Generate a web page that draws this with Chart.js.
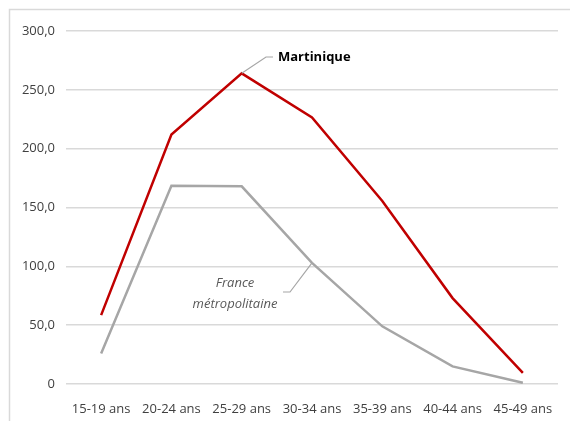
<!DOCTYPE html>
<html>
<head>
<meta charset="utf-8">
<script src="https://cdn.jsdelivr.net/npm/chart.js@4"></script>
<style>
  html, body { margin: 0; padding: 0; background: #fff; }
  #wrap { width: 570px; height: 421px; position: relative; }
</style>
</head>
<body>
<div id="wrap"><canvas id="chart"></canvas></div>
<script>
const ageGroups = ['15-19 ans', '20-24 ans', '25-29 ans', '30-34 ans', '35-39 ans', '40-44 ans', '45-49 ans'];
const martinique = [58.5, 212.0, 264.0, 226.5, 155.5, 73.0, 9.5];
const franceMetro = [26.0, 168.5, 168.0, 103.0, 49.0, 15.0, 1.0];
const yTicks = [0, 50, 100, 150, 200, 250, 300];

const FONT = '"Open Sans", sans-serif';

// frame + series labels with leader lines
const annotate = {
  id: 'annotate',
  beforeDraw(chart) {
    const ctx = chart.ctx;
    ctx.save();
    ctx.strokeStyle = '#d9d9d9';
    ctx.lineWidth = 1.5;
    ctx.beginPath();
    ctx.moveTo(9.5, 421);
    ctx.lineTo(9.5, 9.5);
    ctx.lineTo(570, 9.5);
    ctx.stroke();
    ctx.restore();
  },
  afterDatasetsDraw(chart) {
    const ctx = chart.ctx;
    const x = chart.scales.x, y = chart.scales.y;
    ctx.save();
    ctx.strokeStyle = '#a6a6a6';
    ctx.lineWidth = 1.2;

    // Martinique label at 25-29
    const mx = x.getPixelForValue(2), my = y.getPixelForValue(martinique[2]);
    ctx.beginPath();
    ctx.moveTo(mx, my);
    ctx.lineTo(266, 57);
    ctx.lineTo(273, 57);
    ctx.stroke();
    ctx.fillStyle = '#000';
    ctx.font = 'bold 13px ' + FONT;
    ctx.textAlign = 'left';
    ctx.textBaseline = 'middle';
    ctx.fillText('Martinique', 278, 57);

    // France métropolitaine label at 30-34
    const fx = x.getPixelForValue(3), fy = y.getPixelForValue(franceMetro[3]);
    ctx.beginPath();
    ctx.moveTo(fx, fy);
    ctx.lineTo(290, 292);
    ctx.lineTo(283, 292);
    ctx.stroke();
    ctx.fillStyle = '#595959';
    ctx.font = 'italic 13px ' + FONT;
    ctx.textAlign = 'center';
    ctx.fillText('France', 235, 283);
    ctx.fillText('métropolitaine', 235, 304);
    ctx.restore();
  }
};

new Chart(document.getElementById('chart'), {
  type: 'line',
  data: {
    labels: ageGroups,
    datasets: [
      {
        label: 'Martinique',
        data: martinique,
        borderColor: '#c00000',
        borderWidth: 2.5,
        pointRadius: 0,
        fill: false,
        tension: 0,
      },
      {
        label: 'France métropolitaine',
        data: franceMetro,
        borderColor: '#a6a6a6',
        borderWidth: 2.5,
        pointRadius: 0,
        fill: false,
        tension: 0,
      },
    ],
  },
  options: {
    responsive: true,
    maintainAspectRatio: false,
    animation: false,
    layout: { padding: { left: 10, top: 31, right: 12, bottom: 0 } },
    plugins: {
      legend: { display: false },
      tooltip: { enabled: false },
    },
    scales: {
      x: {
        offset: true,
        grid: { display: false },
        border: { display: false },
        ticks: {
          color: '#404040',
          font: { family: FONT, size: 13 },
          maxRotation: 0,
          autoSkip: false,
          padding: 9,
        },
        afterFit(scale) { scale.height = 37; },
      },
      y: {
        min: 0,
        max: 300,
        afterBuildTicks(scale) { scale.ticks = yTicks.map(v => ({ value: v })); },
        grid: { color: '#d9d9d9', lineWidth: 1.5, drawTicks: false },
        border: { display: false },
        ticks: {
          color: '#404040',
          font: { family: FONT, size: 13 },
          padding: 11,
          callback: v => (v === 0 ? '0' : v.toFixed(1).replace('.', ',')),
        },
        afterFit(scale) { scale.width = 56; },
      },
    },
  },
  plugins: [annotate],
});
</script>
</body>
</html>
